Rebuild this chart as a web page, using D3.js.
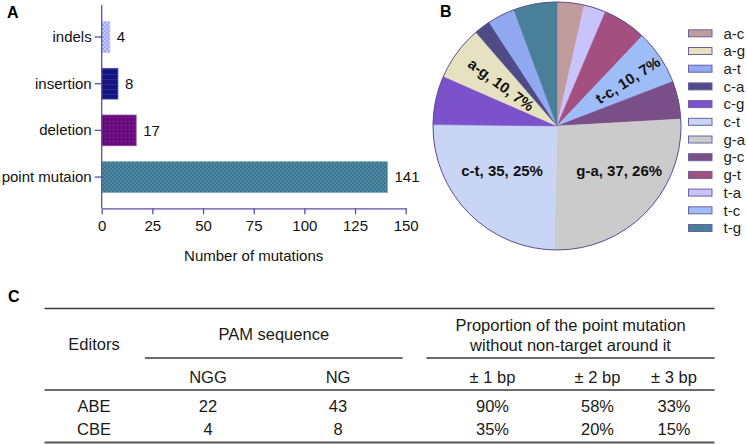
<!DOCTYPE html>
<html><head><meta charset="utf-8">
<script src="https://cdn.jsdelivr.net/npm/d3@7"></script>
<style>
html,body{margin:0;padding:0;background:#fff;}
svg{display:block;font-family:"Liberation Sans",Arial,Helvetica,sans-serif;}
</style></head>
<body>
<svg id="c" width="747" height="445"></svg>
<script>
// ---- Panel A data ----
const mutTypes = ["indels","insertion","deletion","point mutaion"];
const mutCounts = [4, 8, 17, 141];
const xTicks = [0,25,50,75,100,125,150];

// ---- Panel B data (clockwise from 12 o'clock) ----
const pieNames  = ["a-c","t-a","g-t","t-c","g-c","g-a","c-t","c-g","a-g","c-a","a-t","t-g"];
const pieValues = [5, 4, 8, 10, 7, 37, 35, 9, 10, 3, 5, 8];
const pieLabelled = ["t-c","g-a","c-t","a-g"];
const legendNames = ["a-c","a-g","a-t","c-a","c-g","c-t","g-a","g-c","g-t","t-a","t-c","t-g"];
const legendColors = ["#c19c9d","#e6e1c0","#90a9f0","#4f4b86","#7b52cc","#c8d5f4","#cbcbcb","#7a4e86","#a34f80","#c8c3fa","#9ebdf8","#4a7f9a"];

// ---- Panel C data ----
const editors = ["ABE","CBE"];
const pamHeaders = ["NGG","NG"];
const pamValues = [[22,43],[4,8]];
const bpHeaders = ["\u00b1 1 bp","\u00b1 2 bp","\u00b1 3 bp"];
const bpValues = [["90%","58%","33%"],["35%","20%","15%"]];

const svg = d3.select("#c");
const axisColor = "#5a4fa3";

// ---------- patterns ----------
const defs = svg.append("defs");
function checker(id, base, alt){
  const p = defs.append("pattern").attr("id",id).attr("width",4).attr("height",4).attr("patternUnits","userSpaceOnUse");
  p.append("rect").attr("width",4).attr("height",4).attr("fill",base);
  p.append("rect").attr("width",2).attr("height",2).attr("fill",alt);
  p.append("rect").attr("x",2).attr("y",2).attr("width",2).attr("height",2).attr("fill",alt);
}
checker("pInd","#a0a6f6","#c9ccfb");
checker("pPt","#3b7690","#4f8aa2");
{
  const p = defs.append("pattern").attr("id","pIns").attr("width",4).attr("height",5).attr("patternUnits","userSpaceOnUse");
  p.append("rect").attr("width",4).attr("height",5).attr("fill","#14147c");
  p.append("rect").attr("y",4).attr("width",4).attr("height",1).attr("fill","#2a2aa0");
}
{
  const p = defs.append("pattern").attr("id","pDel").attr("width",4).attr("height",4).attr("patternUnits","userSpaceOnUse");
  p.append("rect").attr("width",4).attr("height",4).attr("fill","#690a7d");
  p.append("rect").attr("x",1).attr("y",1).attr("width",1).attr("height",1).attr("fill","#8d3da0");
}
const barFills = ["url(#pInd)","url(#pIns)","url(#pDel)","url(#pPt)"];
const barStrokes = ["#b9bcf8","#4040a8","#8a4a9a","#7aa6b8"];

// ---------- Panel A ----------
const x = d3.scaleLinear().domain([0,150]).range([101.7,405.7]);
const y = d3.scaleBand().domain(mutTypes).range([13.7,200.4]).paddingInner(0.342).paddingOuter(0.171);
const axisY0 = 5, axisY1 = 208.3;

const gA = svg.append("g");
gA.selectAll("rect.bar").data(mutTypes).join("rect")
  .attr("x", x(0)).attr("y", d=>y(d))
  .attr("width", (d,i)=>x(mutCounts[i])-x(0)).attr("height", y.bandwidth())
  .attr("fill",(d,i)=>barFills[i]).attr("stroke",(d,i)=>barStrokes[i]).attr("stroke-width",0.8);

gA.selectAll("text.val").data(mutTypes).join("text")
  .attr("x",(d,i)=>x(mutCounts[i])+7).attr("y",d=>y(d)+y.bandwidth()/2)
  .attr("dy","0.35em").attr("font-size",15).attr("fill","#111")
  .text((d,i)=>mutCounts[i]);

const yAx = gA.append("g").attr("transform",`translate(${x(0)},0)`)
  .call(d3.axisLeft(y).tickSize(7).tickPadding(3).tickSizeOuter(0));
yAx.select(".domain").remove();
gA.append("line").attr("x1",x(0)).attr("x2",x(0)).attr("y1",axisY0).attr("y2",axisY1).attr("stroke",axisColor).attr("stroke-width",1.3);
yAx.selectAll(".tick line").attr("stroke",axisColor).attr("stroke-width",1.3);
yAx.selectAll(".tick text").attr("font-size",15).attr("fill","#111").attr("font-family",null);

const xAx = gA.append("g").attr("transform",`translate(0,${axisY1})`)
  .call(d3.axisBottom(x).tickValues(xTicks).tickSize(6).tickPadding(6).tickSizeOuter(0));
xAx.select(".domain").attr("stroke",axisColor).attr("stroke-width",1.3);
xAx.selectAll(".tick line").attr("stroke",axisColor).attr("stroke-width",1.3);
xAx.selectAll(".tick text").attr("font-size",15).attr("fill","#111").attr("font-family",null);

gA.append("text").attr("x",253.7).attr("y",261).attr("text-anchor","middle").attr("font-size",15).attr("fill","#111").text("Number of mutations");
svg.append("text").attr("x",7).attr("y",17.5).attr("font-size",16).attr("font-weight","bold").text("A");

// ---------- Panel B ----------
const cx = 557, cy = 126, R = 124;
const colorOf = d3.scaleOrdinal().domain(legendNames).range(legendColors);
const total = d3.sum(pieValues);
const pie = d3.pie().sort(null).value(d=>d.v);
const arcs = pie(pieNames.map((n,i)=>({n, v:pieValues[i]})));
const arc = d3.arc().innerRadius(0).outerRadius(R);
const gB = svg.append("g").attr("transform",`translate(${cx},${cy})`);
gB.selectAll("path").data(arcs).join("path")
  .attr("d",arc).attr("fill",d=>colorOf(d.data.n)).attr("stroke",d=>colorOf(d.data.n)).attr("stroke-width",0.5);
gB.append("circle").attr("r",R).attr("fill","none").attr("stroke","#5c5290").attr("stroke-width",1);

// label placement: radius fraction and angular nudge (deg)
const labelR = {"t-c":0.68,"g-a":0.62,"c-t":0.57,"a-g":0.56};
const labelNudge = {"t-c":1,"g-a":-8,"c-t":5,"a-g":0};
gB.selectAll("text.pl").data(arcs.filter(d=>pieLabelled.includes(d.data.n))).join("text")
  .attr("font-size",15).attr("font-weight","bold").attr("fill","#111")
  .attr("text-anchor","middle").attr("dy","0.35em")
  .attr("transform",d=>{
    const a = (d.startAngle+d.endAngle)/2 + labelNudge[d.data.n]*Math.PI/180;
    const r = R*labelR[d.data.n];
    const px = Math.sin(a)*r, py = -Math.cos(a)*r;
    let rot = 0;
    if (d.data.n==="t-c" || d.data.n==="a-g"){
      rot = a*180/Math.PI - 90;
      if (rot < -90) rot += 180;
      if (rot > 90) rot -= 180;
    }
    return `translate(${px},${py}) rotate(${rot})`;
  })
  .text(d=>`${d.data.n}, ${d.data.v}, ${Math.round(d.data.v/total*100)}%`);

svg.append("text").attr("x",440).attr("y",16.5).attr("font-size",16).attr("font-weight","bold").text("B");

const lg = svg.append("g");
const ly = d3.scaleLinear().domain([0,11]).range([33.3,228]);
lg.selectAll("rect").data(legendNames).join("rect")
  .attr("x",688.5).attr("y",(d,i)=>ly(i)-3.5).attr("width",23.5).attr("height",7)
  .attr("fill",d=>colorOf(d)).attr("stroke","#6a62a0").attr("stroke-width",1);
lg.selectAll("text").data(legendNames).join("text")
  .attr("x",723.5).attr("y",(d,i)=>ly(i)).attr("dy","0.35em")
  .attr("font-size",15).attr("fill","#222").text(d=>d);

// ---------- Panel C ----------
const gC = svg.append("g");
svg.append("text").attr("x",8).attr("y",302).attr("font-size",16).attr("font-weight","bold").text("C");
const lineC = "#3a3a3a";
function hline(x1,x2,yy,w,c){ gC.append("line").attr("x1",x1).attr("x2",x2).attr("y1",yy).attr("y2",yy).attr("stroke",c||lineC).attr("stroke-width",w); }
hline(44.5,714.5,308.5,1.4);
hline(145,402.5,358,1.4);
hline(426.5,714.5,358,1.4);
hline(44.5,714.5,390,1.4);
hline(44.5,714.5,442.5,2,"#555");

const colX = d3.scaleOrdinal().domain(["ed","NGG","NG","b1","b2","b3"]).range([94,208,338,492.5,597.5,674]);
const rowY = d3.scaleOrdinal().domain(["h2","ABE","CBE"]).range([377,406,429.5]);
function t(xx,yy,s){ gC.append("text").attr("x",xx).attr("y",yy).attr("dy","0.35em").attr("text-anchor","middle").attr("font-size",16.5).attr("fill","#1a1a1a").text(s); }
t(colX("ed"),344,"Editors");
t((145+402.5)/2,334,"PAM sequence");
t(570.5,325,"Proportion of the point mutation");
t(570.5,345,"without non-target around it");
pamHeaders.forEach((h,i)=>t(colX(h),rowY("h2"),h));
bpHeaders.forEach((h,i)=>t(colX("b"+(i+1)),rowY("h2"),h));
editors.forEach((e,r)=>{
  t(colX("ed"),rowY(e),e);
  pamValues[r].forEach((v,i)=>t(colX(pamHeaders[i]),rowY(e),v));
  bpValues[r].forEach((v,i)=>t(colX("b"+(i+1)),rowY(e),v));
});
</script>
</body></html>
